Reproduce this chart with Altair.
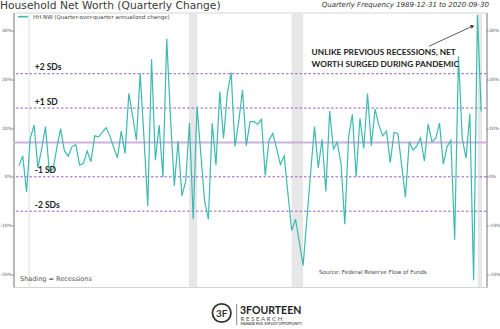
import altair as alt
import pandas as pd

# ---------------- data ----------------
first_quarter = 1990.25          # 1990-03-31, first quarter-over-quarter change
quarter_step = 0.25
hhnw = [2.3, 4.3, -3.1, 8.0, 10.6, 1.8, 5.8, 10.3, 1.3, 1.5,
        6.0, 9.9, 5.3, 4.2, 6.2, 6.6, 2.4, 2.7, 5.3, 3.1,
        8.4, 8.2, 9.1, 10.1, 8.4, 6.0, 3.9, 9.4, 4.8, 17.1,
        12.5, 7.5, 21.2, 8.0, -6.0, 24.1, 3.4, 10.6, -0.1, 28.3,
        12.0, -1.8, 7.3, -3.9, -1.0, 11.1, -8.7, 14.4, 4.7, -5.0,
        -8.7, 11.0, 2.4, 17.5, 7.9, 17.1, 21.4, 6.2, 11.3, 17.8,
        6.4, 11.3, 11.3, 10.8, 11.8, 0.3, 7.5, 8.9, 5.8, 2.5,
        4.3, -3.5, -11.0, -8.7, -13.4, -18.2, -8.6, 1.0, 10.3, 1.8,
        7.7, -3.0, 13.5, 5.7, 7.1, 2.7, -9.7, 8.2, 12.8, 0.0,
        12.0, 5.8, 17.1, 6.4, 13.9, 10.6, 8.4, 9.4, 2.9, 9.1,
        8.9, 2.4, -4.2, 7.2, 5.5, 6.3, 8.0, 3.2, 10.8, 7.2,
        7.9, 11.0, 2.6, 6.2, 7.5, -12.9, 24.7, 7.9, 3.8, 12.9,
        -21.2, 33.2, 13.4]
series_name = "HH NW (Quarter-over-quarter annualized change)"

recession_start = [1990.88, 2001.46, 2008.24, 2020.52]
recession_end = [1990.98, 2002.01, 2009.00, 2020.80]

sd_mean = 7.05
sd_size = 7.05
sd_multiples = [2, 1, -1, -2]
sd_labels = ["+2 SDs", "+1 SD", "-1 SD", "-2 SDs"]
sd_label_year = 1991.29

y_ticks = [-20, -10, 0, 10, 20, 30]

note_lines = ["UNLIKE PREVIOUS RECESSIONS, NET", "WORTH SURGED DURING PANDEMIC"]
note_year = 2009.56
note_values = [25.4, 22.9]
arrow_from = (2017.32, 26.8)
arrow_to = (2020.18, 30.9)

# ---------------- frames ----------------
line_df = pd.DataFrame({
    "t": [first_quarter + quarter_step * i for i in range(len(hhnw))],
    "v": hhnw,
    "series": series_name,
})
rec_df = pd.DataFrame({"s": recession_start, "e": recession_end})
sd_df = pd.DataFrame({
    "v": [sd_mean + k * sd_size for k in sd_multiples],
    "label": sd_labels,
    "t": sd_label_year,
})
mean_df = pd.DataFrame({"v": [sd_mean]})
note_df = pd.DataFrame({"t": note_year, "v": note_values, "label": note_lines})
arrow_df = pd.DataFrame({"t": [arrow_from[0]], "v": [arrow_from[1]],
                         "t2": [arrow_to[0]], "v2": [arrow_to[1]]})
head_df = pd.DataFrame({"t": [arrow_to[0]], "v": [arrow_to[1]]})

# ---------------- scales / axes ----------------
W, H = 473, 274.5
xscale = alt.Scale(domain=[1989.89, 2021.10], nice=False, zero=False)
yscale = alt.Scale(domain=[-22.6, 33.7], nice=False, zero=False)

quarter_ticks = [1990 + quarter_step * k for k in range(0, 125)]
x_axis = alt.Axis(
    values=quarter_ticks,
    labelExpr="datum.value % 5 === 0 ? format(datum.value, 'd') : ''",
    tickSize={"condition": {"test": "datum.value % 5 === 0", "value": 4}, "value": 2.5},
    labelFontSize=5, labelColor="#555", labelFont="DejaVu Sans",
    tickColor="#777", domainColor="#777", grid=False, labelOverlap=False,
    labelPadding=2.5, title=None, labelFlush=False, labelBound=False,
)
common_y = dict(values=y_ticks, labelExpr="datum.value + '%'", tickSize=1.6,
                labelFontSize=4.5, labelColor="#555", labelFont="DejaVu Sans",
                tickColor="#777", domainColor="#888", grid=False, title=None,
                labelPadding=0.4)
y_left = alt.Axis(orient="left", **common_y)
y_right = alt.Axis(orient="right", **common_y)

X = lambda f, ax=None: alt.X(f, type="quantitative", scale=xscale, axis=ax)
Y = lambda f, ax=None: alt.Y(f, type="quantitative", scale=yscale, axis=ax)

# ---------------- layers ----------------
rec = alt.Chart(rec_df).mark_rect(color="#e7e7e7").encode(
    x=X("s", x_axis), x2="e")

mean_rule = alt.Chart(mean_df).mark_rule(color="#cdb0dc", strokeWidth=2).encode(
    y=Y("v", y_right))

sd_rules = alt.Chart(sd_df).mark_rule(color="#9b5cc7", strokeWidth=1,
                                      strokeDash=[2.5, 2]).encode(y=Y("v"))

line = alt.Chart(line_df).mark_line(strokeWidth=1.2).encode(
    x=X("t"), y=Y("v", y_left),
    color=alt.Color("series:N",
                    scale=alt.Scale(range=["#3cbab2"]),
                    legend=alt.Legend(orient="none", legendX=3.5, legendY=-1.8,
                                      title=None, symbolType="stroke",
                                      symbolStrokeWidth=1.6, symbolSize=100,
                                      labelFontSize=5.5, labelColor="#444",
                                      labelFont="DejaVu Sans", padding=0)),
)

sd_text = alt.Chart(sd_df).mark_text(align="left", baseline="alphabetic", dy=-3.5,
                                     font="Lato", fontWeight="bold", fontSize=8.5,
                                     color="#222").encode(
    x=X("t"), y=Y("v"), text="label:N")

note_text = alt.Chart(note_df).mark_text(align="left", baseline="middle",
                                         font="Lato", fontWeight="bold", fontSize=8.3,
                                         color="#222").encode(
    x=X("t"), y=Y("v"), text="label:N")

arrow = alt.Chart(arrow_df).mark_rule(color="#333", strokeWidth=0.8).encode(
    x=X("t"), y=Y("v"), x2="t2", y2="v2")
head = alt.Chart(head_df).mark_point(shape="triangle-up", filled=True, size=18,
                                     angle=65, color="#333", opacity=1).encode(
    x=X("t"), y=Y("v"))


def label(text, px, py, size, color="#444", align="left", weight="normal",
          style="normal", font="DejaVu Sans"):
    return alt.Chart(pd.DataFrame({"txt": [text]})).mark_text(
        align=align, baseline="middle", fontSize=size, color=color,
        fontWeight=weight, fontStyle=style, font=font,
    ).encode(x=alt.value(px), y=alt.value(py), text="txt:N")


title = label("Household Net Worth (Quarterly Change)", -13.5, -7, 10.7, "#3a3a3a")
subtitle = label("Quarterly Frequency 1989-12-31 to 2020-09-30", 475.5, -7.5, 7,
                 "#333", align="right", style="italic")
shading = label("Shading  =  Recessions", 6.5, 266.5, 6.5, "#555")
source = label("Source: Federal Reserve Flow of Funds", 305.5, 259, 5.6, "#444")

logo_circle = alt.Chart(pd.DataFrame({"a": [0]})).mark_point(
    shape="circle", size=340, stroke="#333", strokeWidth=1.8, filled=False,
    opacity=1).encode(x=alt.value(208.2), y=alt.value(300.5))
logo_mark = label("3F", 208.2, 301, 10, "#333", align="center", weight="bold",
                  font="Lato")
logo_sep = alt.Chart(pd.DataFrame({"a": [0]})).mark_rule(color="#666", strokeWidth=0.8).encode(
    x=alt.value(223.2), y=alt.value(291.5), y2=alt.value(312.5))
logo_name = label("3FOURTEEN", 226.5, 298.8, 10.5, "#222", weight="bold", font="Lato")
logo_research = label("R E S E A R C H", 227, 306.8, 6.2, "#555", font="Lato")
logo_tag = label("MANAGE RISK. EXPLOIT OPPORTUNITY", 227, 311.8, 3.3, "#555",
                 weight="bold", font="Lato")

chart = alt.layer(
    rec, mean_rule, sd_rules, line, sd_text, note_text, arrow, head,
    title, subtitle, shading, source,
    logo_circle, logo_mark, logo_sep, logo_name, logo_research, logo_tag,
).resolve_axis(y="independent").properties(
    width=W, height=H,
    autosize=alt.AutoSizeParams(type="none"),
    padding={"left": 13.5, "top": 12.5, "right": 13.5, "bottom": 42},
    background="white",
).configure_view(stroke="#d5d5d5", strokeWidth=1)

chart.save("out.html", embed_options={"renderer": "svg", "actions": False})
